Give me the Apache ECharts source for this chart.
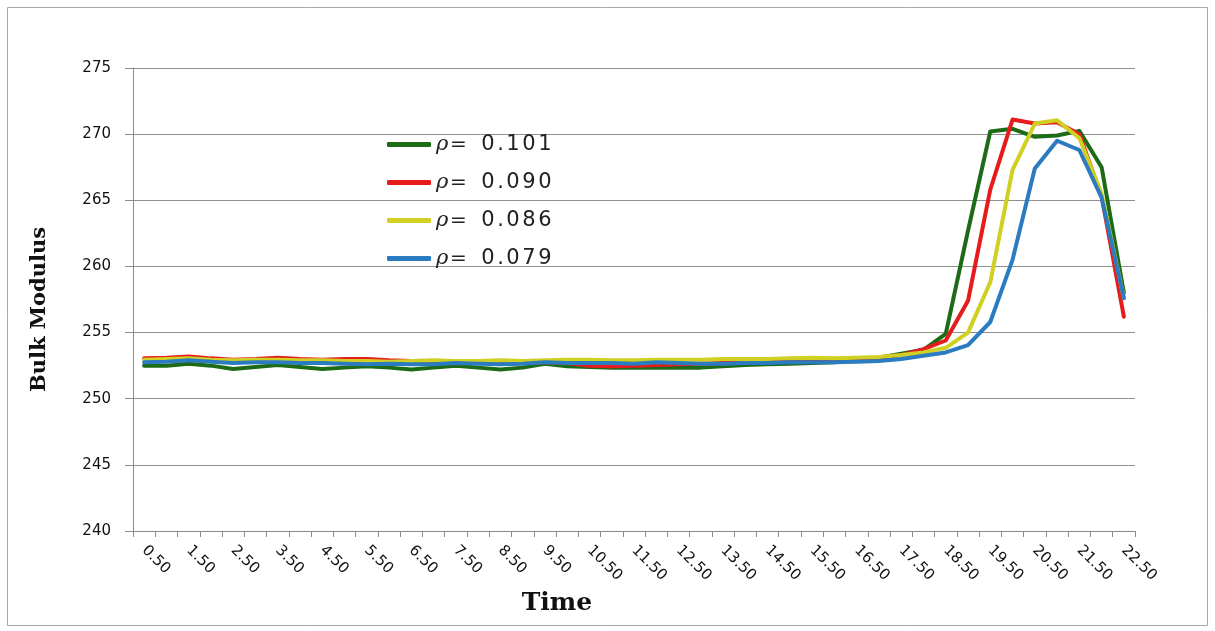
<!DOCTYPE html>
<html>
<head>
<meta charset="utf-8">
<title>Bulk Modulus vs Time</title>
<script src="https://cdn.jsdelivr.net/npm/echarts@6/dist/echarts.min.js"></script>
<style>
  html, body { margin: 0; padding: 0; background: #fff; }
  #chart { width: 1215px; height: 631px; }
</style>
</head>
<body>
<div id="chart"></div>
<script>
// Time steps: 0.50 to 22.50 in steps of 0.5
const times = [
  '0.50','1.00','1.50','2.00','2.50','3.00','3.50','4.00','4.50','5.00',
  '5.50','6.00','6.50','7.00','7.50','8.00','8.50','9.00','9.50','10.00',
  '10.50','11.00','11.50','12.00','12.50','13.00','13.50','14.00','14.50','15.00',
  '15.50','16.00','16.50','17.00','17.50','18.00','18.50','19.00','19.50','20.00',
  '20.50','21.00','21.50','22.00','22.50'
];

const seriesNames = ['ρ=0.101', 'ρ=0.090', 'ρ=0.086', 'ρ=0.079'];

const rho0101 = [
  252.5, 252.5, 252.65, 252.5, 252.25, 252.4, 252.55, 252.4, 252.25, 252.35,
  252.45, 252.35, 252.2, 252.35, 252.5, 252.35, 252.2, 252.35, 252.65, 252.45,
  252.4, 252.35, 252.35, 252.35, 252.35, 252.35, 252.45, 252.55, 252.6, 252.65,
  252.7, 252.75, 252.9, 253.1, 253.4, 253.7, 254.9, 262.7, 270.2, 270.4,
  269.8, 269.9, 270.25, 267.5, 258.0
];

const rho0090 = [
  253.05, 253.1, 253.2, 253.05, 252.95, 253.0, 253.1, 253.0, 252.95, 253.0,
  253.0, 252.9, 252.85, 252.8, 252.8, 252.8, 252.75, 252.75, 252.75, 252.7,
  252.5, 252.45, 252.5, 252.55, 252.6, 252.65, 252.7, 252.75, 252.8, 252.85,
  252.9, 252.95, 253.0, 253.1, 253.3, 253.75, 254.4, 257.4, 265.8, 271.1,
  270.8, 270.9, 270.0, 265.3, 256.2
];

const rho0086 = [
  252.95, 253.0, 253.05, 252.95, 252.9, 252.95, 252.95, 252.9, 252.9, 252.85,
  252.85, 252.8, 252.85, 252.9, 252.85, 252.85, 252.9, 252.85, 252.9, 252.95,
  252.95, 252.9, 252.9, 252.95, 252.95, 252.95, 253.0, 253.0, 253.0, 253.05,
  253.1, 253.05, 253.1, 253.15, 253.3, 253.5, 253.85, 255.0, 258.8, 267.3,
  270.8, 271.05, 269.7, 265.5, 257.6
];

const rho0079 = [
  252.75, 252.8, 252.9, 252.8, 252.7, 252.75, 252.75, 252.7, 252.7, 252.65,
  252.6, 252.65, 252.6, 252.6, 252.7, 252.65, 252.6, 252.65, 252.75, 252.7,
  252.7, 252.7, 252.65, 252.75, 252.7, 252.65, 252.65, 252.7, 252.7, 252.75,
  252.75, 252.75, 252.8, 252.85, 253.0, 253.25, 253.5, 254.05, 255.8, 260.5,
  267.4, 269.5, 268.8, 265.2, 257.6
];

const yTicks = { min: 240, max: 275, step: 5 };

const seriesData = [rho0101, rho0090, rho0086, rho0079];
const colors = ['#1d6b16', '#e61c1c', '#cfd022', '#2a7bbf'];

const chart = echarts.init(document.getElementById('chart'), null, { renderer: 'canvas' });

// Legend label: italic rho, equals sign, then evenly spaced digits
function legendLabel(name) {
  const parts = name.split('=');
  const digits = parts[1].split('').map(function (c) {
    return c === '.' ? '{p|.}' : '{d|' + c + '}';
  }).join('');
  return '{r|' + parts[0] + '}{e|=}' + digits;
}

const axisGray = '#8c8c8c';

const option = {
  animation: false,
  backgroundColor: '#ffffff',
  color: colors,
  grid: { left: 133, right: 80, top: 68, bottom: 100, containLabel: false },
  legend: {
    orient: 'vertical',
    left: 387,
    top: 134,
    padding: 0,
    itemWidth: 44,
    itemHeight: 5,
    itemGap: 17,
    icon: 'roundRect',
    data: seriesNames,
    formatter: legendLabel,
    textStyle: {
      color: '#222',
      lineHeight: 20,
      rich: {
        r: { fontFamily: 'DejaVu Serif', fontStyle: 'italic', fontSize: 21, width: 14, align: 'left', color: '#222' },
        e: { fontFamily: 'DejaVu Sans', fontSize: 20, width: 30, align: 'left', color: '#222' },
        d: { fontFamily: 'DejaVu Sans', fontSize: 21, width: 16, align: 'center', color: '#222' },
        p: { fontFamily: 'DejaVu Sans', fontSize: 21, width: 9, align: 'center', color: '#222' }
      }
    }
  },
  xAxis: {
    type: 'category',
    data: times,
    boundaryGap: true,
    name: 'Time',
    nameLocation: 'middle',
    nameGap: 58,
    nameTextStyle: {
      fontFamily: 'DejaVu Serif',
      fontWeight: 'bold',
      fontSize: 25,
      color: '#111',
      padding: [0, 154, 0, 0]
    },
    axisLine: { lineStyle: { color: axisGray, width: 1 } },
    axisTick: { show: true, interval: 0, length: 6, lineStyle: { color: axisGray } },
    axisLabel: {
      interval: 1,
      rotate: -45,
      margin: 17,
      fontFamily: 'DejaVu Sans',
      fontSize: 15,
      color: '#111'
    },
    splitLine: { show: false }
  },
  yAxis: {
    type: 'value',
    min: yTicks.min,
    max: yTicks.max,
    interval: yTicks.step,
    name: 'Bulk Modulus',
    nameLocation: 'middle',
    nameRotate: 90,
    nameGap: 83,
    nameTextStyle: {
      fontFamily: 'DejaVu Serif',
      fontWeight: 'bold',
      fontSize: 21,
      color: '#111',
      padding: [0, 20, 0, 0]
    },
    axisLine: { show: true, lineStyle: { color: axisGray, width: 1 } },
    axisTick: { show: true, length: 8, lineStyle: { color: axisGray } },
    axisLabel: {
      margin: 22,
      fontFamily: 'DejaVu Sans',
      fontSize: 15,
      color: '#111',
      formatter: function (v) { return String(v); }
    },
    splitLine: { show: true, lineStyle: { color: '#8f8f8f', width: 1 } }
  },
  series: seriesNames.map(function (name, i) {
    return {
      name: name,
      type: 'line',
      data: seriesData[i],
      symbol: 'none',
      smooth: false,
      lineStyle: { width: 4, color: colors[i], join: 'round', cap: 'round' },
      itemStyle: { color: colors[i] }
    };
  }),
  graphic: [
    {
      type: 'rect',
      z: -1,
      shape: { x: 7.5, y: 7.5, width: 1200, height: 618 },
      style: { fill: 'none', stroke: '#a8a8a8', lineWidth: 1 }
    }
  ]
};

chart.setOption(option);
</script>
</body>
</html>
